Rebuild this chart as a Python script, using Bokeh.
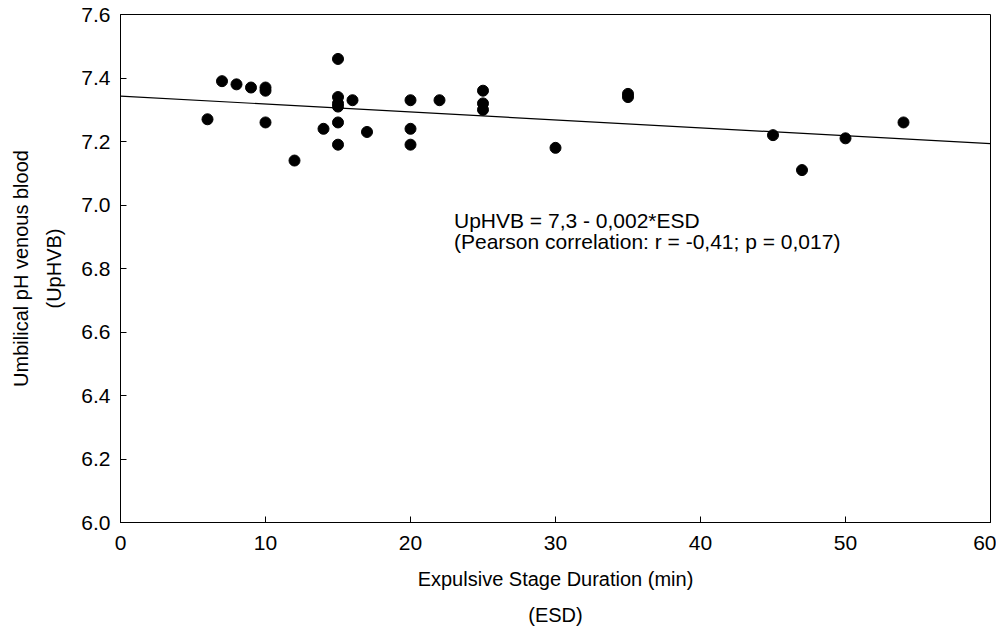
from bokeh.plotting import figure
from bokeh.models import Label, FixedTicker, PrintfTickFormatter, ColumnDataSource, Range1d
from bokeh.embed import file_html
from bokeh.resources import INLINE
import numpy as np

# ---- data ----
esd = [6, 7, 8, 9, 10, 10, 10, 12, 14,
       15, 15, 15, 15, 15, 15, 16, 17,
       20, 20, 20, 22, 25, 25, 25, 30, 35, 35,
       45, 47, 50, 54]
uphvb = [7.27, 7.39, 7.38, 7.37, 7.37, 7.36, 7.26, 7.14, 7.24,
         7.46, 7.34, 7.32, 7.31, 7.26, 7.19, 7.33, 7.23,
         7.33, 7.24, 7.19, 7.33, 7.36, 7.32, 7.30, 7.18, 7.35, 7.34,
         7.22, 7.11, 7.21, 7.26]
fit_intercept = 7.343
fit_slope = -0.0025
x_limits = [0, 60]
y_limits = [6.0, 7.6]
x_ticks = [0, 10, 20, 30, 40, 50, 60]
y_ticks = [6.0, 6.2, 6.4, 6.6, 6.8, 7.0, 7.2, 7.4, 7.6]
eq_text = "UpHVB = 7,3 - 0,002*ESD"
corr_text = "(Pearson correlation: r = -0,41; p = 0,017)"
x_title = "Expulsive Stage Duration (min)\n(ESD)"
y_title = "Umbilical pH venous blood\n(UpHVB)"

FONT = "Liberation Sans"

p = figure(frame_width=870, frame_height=508,
           x_range=Range1d(*x_limits), y_range=Range1d(*y_limits),
           output_backend="svg", toolbar_location=None,
           min_border_left=120, min_border_top=14, min_border_right=6,
           min_border_bottom=10)
p.background_fill_color = "white"
p.border_fill_color = "white"
p.xgrid.visible = False
p.ygrid.visible = False
p.outline_line_color = "black"
p.outline_line_width = 1
p.outline_line_alpha = 1

for ax in (p.xaxis, p.yaxis):
    ax.axis_line_color = "black"
    ax.major_tick_line_color = "black"
    ax.major_tick_in = 6
    ax.major_tick_out = 0
    ax.minor_tick_line_color = None
    ax.major_label_text_font = FONT
    ax.major_label_text_font_size = "21px"
    ax.major_label_text_color = "black"
    ax.axis_label_text_font = FONT
    ax.axis_label_text_font_size = "20px"
    ax.axis_label_text_font_style = "normal"
    ax.axis_label_text_color = "black"

p.xaxis.major_label_standoff = 13
p.yaxis.major_label_standoff = 10
p.xaxis.ticker = FixedTicker(ticks=x_ticks)
p.yaxis.ticker = FixedTicker(ticks=y_ticks)
p.xaxis.formatter = PrintfTickFormatter(format="%d")
p.yaxis.formatter = PrintfTickFormatter(format="%.1f")
p.xaxis.axis_label = x_title
p.yaxis.axis_label = y_title
p.xaxis.axis_label_text_line_height = 1.65
p.yaxis.axis_label_text_line_height = 1.5
p.xaxis.axis_label_standoff = 15
p.yaxis.axis_label_standoff = 13

fit_x = np.array(x_limits, dtype=float)
fit_y = fit_intercept + fit_slope * fit_x
p.line(fit_x, fit_y, line_color="black", line_width=1.2)

src = ColumnDataSource(dict(x=esd, y=uphvb))
p.scatter("x", "y", source=src, size=11, marker="circle",
          fill_color="black", line_color="black")

p.add_layout(Label(x=23, y=6.951, text=eq_text, text_font=FONT,
                   text_font_size="21px", text_color="black",
                   text_baseline="alphabetic"))
p.add_layout(Label(x=23, y=6.885, text=corr_text, text_font=FONT,
                   text_font_size="21px", text_color="black",
                   text_baseline="alphabetic"))

open("out.html", "w").write(file_html(p, INLINE))
